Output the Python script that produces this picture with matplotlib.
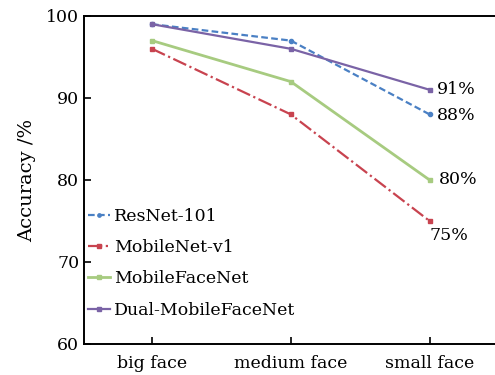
import matplotlib.pyplot as plt

# accuracy (%) per face size for each model
categories = ['big face', 'medium face', 'small face']
resnet101 = [99, 97, 88]
mobilenet_v1 = [96, 88, 75]
mobilefacenet = [97, 92, 80]
dual_mobilefacenet = [99, 96, 91]

plt.rcParams['font.family'] = ['DejaVu Serif']
plt.rcParams['font.size'] = 12.5

fig = plt.figure(figsize=(4.95, 3.75), dpi=100)
ax = fig.add_axes([84 / 495, 31 / 375, 415 / 495, 328 / 375])

x = range(len(categories))
ax.plot(x, resnet101, '--', color='#4a80c4', lw=1.6, marker='o', ms=3,
        dashes=(3, 1.5), label='ResNet-101')
ax.plot(x, mobilenet_v1, '-.', color='#c8434f', lw=1.6, marker='s', ms=3,
        label='MobileNet-v1')
ax.plot(x, mobilefacenet, '-', color='#a7cb80', lw=2.0, marker='s', ms=3,
        label='MobileFaceNet')
ax.plot(x, dual_mobilefacenet, '-', color='#7a63a6', lw=1.6, marker='s', ms=3,
        label='Dual-MobileFaceNet')

# value labels at the small-face end
last = len(categories) - 1
ax.annotate(f'{dual_mobilefacenet[-1]}%', (last, dual_mobilefacenet[-1]),
            xytext=(5, 0), textcoords='offset points', va='center')
ax.annotate(f'{resnet101[-1]}%', (last, resnet101[-1]),
            xytext=(5, -1), textcoords='offset points', va='center')
ax.annotate(f'{mobilefacenet[-1]}%', (last, mobilefacenet[-1]),
            xytext=(7, 0), textcoords='offset points', va='center')
ax.annotate(f'{mobilenet_v1[-1]}%', (last, mobilenet_v1[-1]),
            xytext=(0, -4), textcoords='offset points', va='top')

ax.set_xlim(-0.49, 2.5)
ax.set_ylim(60, 100)
ax.set_xticks(list(x))
ax.set_xticklabels(categories)
ax.set_yticks([60, 70, 80, 90, 100])
ax.set_ylabel('Accuracy /%', labelpad=7, fontsize=14)
ax.tick_params(direction='in', length=5, width=1.2)
ax.tick_params(axis='x', pad=8)
for s in ax.spines.values():
    s.set_linewidth(1.4)
ax.spines['right'].set_visible(False)

ax.legend(loc='lower left', bbox_to_anchor=(-0.015, 0.045), frameon=False,
          handlelength=1.25, handletextpad=0.25, labelspacing=0.83,
          borderaxespad=0.2, markerscale=0.8)

fig.savefig('out.png', dpi=100)
